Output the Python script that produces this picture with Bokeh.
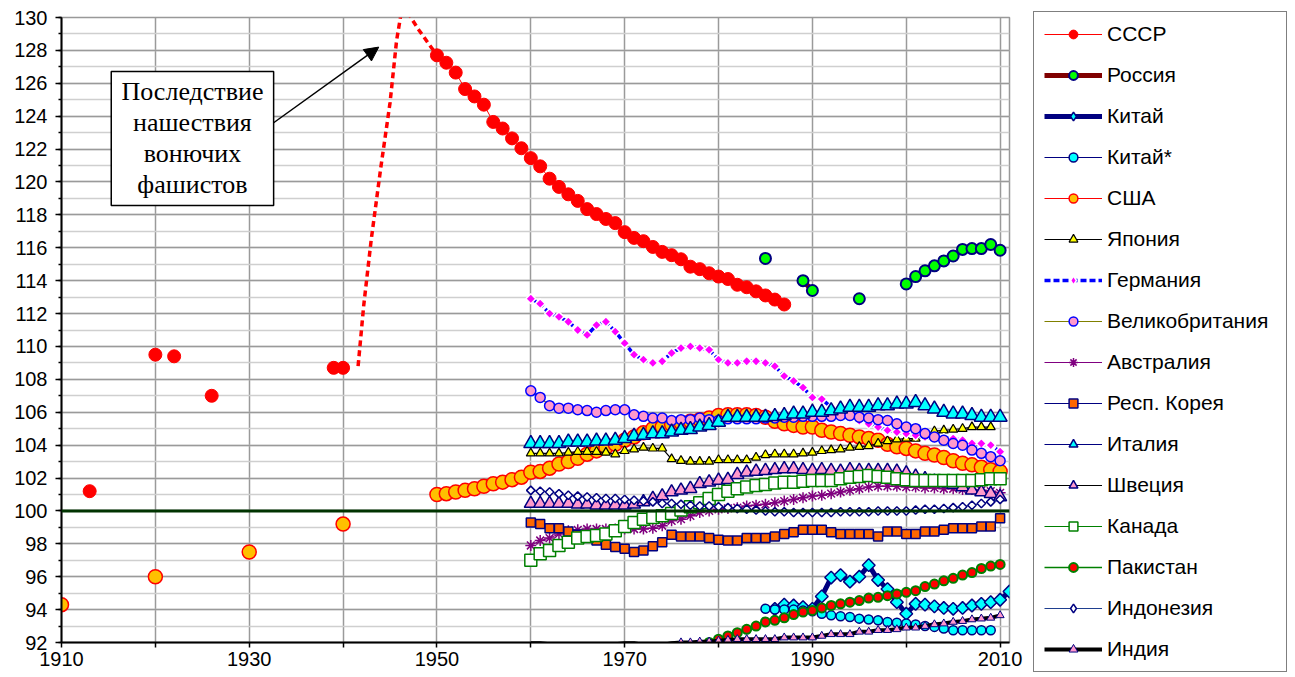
import numpy as np
from bokeh.plotting import figure
from bokeh.models import (Range1d, FixedTicker, Legend, LegendItem, Span,
                          BoxAnnotation, Label, Arrow, NormalHead)
from bokeh.embed import file_html
from bokeh.resources import INLINE

# ---------------- data ----------------
ussr_years = [1913, 1920, 1922, 1926, 1939, 1940] + list(range(1950, 1988))
ussr_values = [101.2, 109.5, 109.4, 107.0, 108.7, 108.7,
               127.7, 127.25, 126.65, 125.65, 125.2, 124.7, 123.65, 123.25, 122.65, 122.05,
               121.45, 120.95, 120.2, 119.7, 119.25, 118.85, 118.35, 118.05, 117.75, 117.5,
               116.95, 116.6, 116.4, 116.05, 115.75, 115.55, 115.3, 114.85, 114.7, 114.45,
               114.25, 114.1, 113.75, 113.6, 113.35, 113.1, 112.85, 112.55]
ussr_war_years = [1941.6, 1942.2, 1943.0, 1944.0, 1945.0, 1945.7, 1946.4, 1947.0, 1948.0, 1949.0, 1950.0]
ussr_war_values = [108.8, 112.5, 116.5, 120.8, 124.8, 128.6, 131.0, 130.2, 129.3, 128.5, 127.7]

russia_years = [1985, 1989, 1990, 1995] + list(range(2000, 2011))
russia_values = [115.35, 114.0, 113.4, 112.9,
                 113.8, 114.25, 114.6, 114.9, 115.2, 115.5, 115.9, 115.95, 115.95, 116.2, 115.85]

china_years = list(range(1986, 2012))
china_values = [94.05, 94.3, 94.25, 94.15, 94.05, 94.8, 95.95, 96.1, 95.7, 96.0,
                96.7, 95.8, 95.25, 94.45, 93.75, 94.35, 94.3, 94.2, 94.1, 94.05,
                94.1, 94.25, 94.35, 94.45, 94.6, 95.1]

china2_years = list(range(1985, 2010))
china2_values = [94.05, 94.0, 94.0, 94.0, 93.95, 93.9, 93.75, 93.65, 93.6, 93.55,
                 93.45, 93.4, 93.35, 93.25, 93.2, 93.15, 93.1, 93.0, 92.95, 92.85,
                 92.75, 92.75, 92.75, 92.75, 92.75]

usa_years = [1910, 1920, 1930, 1940] + list(range(1950, 2011))
usa_values = [94.3, 96.0, 97.5, 99.2,
              101.0, 101.05, 101.15, 101.25, 101.35, 101.5, 101.65, 101.75, 101.9, 102.05,
              102.35, 102.4, 102.6, 102.85, 103.0, 103.2, 103.45, 103.65, 103.85, 104.05,
              104.3, 104.5, 104.75, 105.0, 105.1, 105.25, 105.35, 105.45, 105.55, 105.65,
              105.8, 105.85, 105.85, 105.85, 105.8, 105.7, 105.45, 105.3, 105.2, 105.1,
              105.1, 104.9, 104.8, 104.7, 104.6, 104.5, 104.4, 104.3, 104.05, 103.9,
              103.8, 103.65, 103.5, 103.4, 103.25, 103.05, 102.9, 102.8, 102.65, 102.5,
              102.4]

years60 = list(range(1960, 2011))

japan_years = list(range(1960, 2010))
japan_values = [103.5, 103.5, 103.5, 103.5, 103.55, 103.6, 103.6, 103.6, 103.55, 103.45,
                103.65, 103.75, 103.85, 103.8, 103.8, 103.15, 103.05, 103.0, 103.0, 103.0,
                103.1, 103.1, 103.1, 103.1, 103.25, 103.4, 103.45, 103.45, 103.45, 103.5,
                103.55, 103.65, 103.7, 103.75, 103.85, 103.9, 103.95, 104.1, 104.25, 104.35,
                104.4, 104.4, 104.6, 104.85, 104.9, 104.95, 105.0, 105.1, 105.1, 105.1]

germany_values = [112.9, 112.6, 112.0, 111.8, 111.5, 111.0, 110.7, 111.3, 111.5, 110.9,
                  110.2, 109.5, 109.2, 109.0, 109.1, 109.6, 109.9, 110.0, 109.9, 109.8,
                  109.2, 109.0, 109.0, 109.1, 109.1, 109.0, 108.8, 108.2, 107.9, 107.5,
                  106.9, 106.8, 106.3, 105.9, 105.7, 105.5, 105.3, 105.1, 104.9, 104.8,
                  104.7, 104.6, 104.5, 104.4, 104.4, 104.4, 104.3, 104.1, 104.1, 104.0,
                  103.6]

uk_values = [107.3, 106.9, 106.4, 106.25, 106.25, 106.15, 106.1, 106.0, 106.1, 106.15,
             106.15, 105.85, 105.75, 105.65, 105.65, 105.5, 105.55, 105.55, 105.65, 105.55,
             105.5, 105.6, 105.6, 105.6, 105.6, 105.65, 105.65, 105.7, 105.7, 105.75,
             105.75, 105.75, 105.75, 105.8, 105.8, 105.7, 105.65, 105.55, 105.5, 105.3,
             105.1, 105.0, 104.7, 104.5, 104.3, 104.1, 104.0, 103.7, 103.5, 103.3,
             103.05]

australia_values = [97.9, 98.2, 98.35, 98.6, 98.8, 98.85, 98.9, 98.9, 98.9, 98.9,
                    98.9, 98.9, 98.9, 98.95, 99.1, 99.4, 99.5, 99.7, 99.9, 100.0,
                    100.1, 100.15, 100.2, 100.3, 100.35, 100.4, 100.5, 100.6, 100.7, 100.8,
                    100.9, 100.95, 101.05, 101.15, 101.25, 101.35, 101.45, 101.5, 101.5, 101.5,
                    101.45, 101.45, 101.4, 101.4, 101.35, 101.35, 101.3, 101.3, 101.25, 101.2,
                    101.1]

korea_values = [99.3, 99.2, 98.95, 98.95, 98.75, 98.55, 98.4, 98.2, 97.95, 97.8,
                97.7, 97.5, 97.6, 97.85, 98.1, 98.55, 98.45, 98.45, 98.45, 98.35,
                98.25, 98.2, 98.2, 98.35, 98.35, 98.35, 98.45, 98.6, 98.7, 98.85,
                98.85, 98.85, 98.7, 98.6, 98.6, 98.6, 98.6, 98.45, 98.75, 98.75,
                98.6, 98.6, 98.75, 98.75, 98.85, 98.95, 98.95, 98.95, 99.05, 99.05,
                99.55]

italy_values = [104.1, 104.1, 104.1, 104.1, 104.2, 104.2, 104.2, 104.25, 104.25, 104.3,
                104.4, 104.55, 104.6, 104.7, 104.7, 104.8, 104.9, 104.95, 105.1, 105.2,
                105.4, 105.7, 105.7, 105.7, 105.7, 105.7, 105.75, 105.8, 105.9, 105.9,
                106.0, 106.0, 106.1, 106.2, 106.3, 106.3, 106.3, 106.4, 106.4, 106.5,
                106.5, 106.6, 106.4, 106.2, 106.0, 105.9, 105.9, 105.8, 105.7, 105.7,
                105.7]

sweden_values = [100.45, 100.45, 100.45, 100.45, 100.45, 100.4, 100.4, 100.35, 100.35, 100.35,
                 100.35, 100.4, 100.55, 100.75, 100.9, 101.15, 101.25, 101.35, 101.65, 101.75,
                 101.85, 101.9, 102.2, 102.35, 102.4, 102.45, 102.5, 102.55, 102.55, 102.5,
                 102.45, 102.5, 102.45, 102.4, 102.5, 102.45, 102.45, 102.45, 102.45, 102.4,
                 102.3, 102.1, 101.95, 101.8, 101.7, 101.6, 101.45, 101.25, 101.15, 101.05,
                 100.85]

canada_values = [97.0, 97.4, 97.6, 97.9, 98.1, 98.35, 98.45, 98.5, 98.6, 98.8,
                 99.05, 99.3, 99.5, 99.6, 99.7, 99.85, 100.05, 100.25, 100.5, 100.75,
                 101.0, 101.2, 101.35, 101.45, 101.55, 101.6, 101.7, 101.75, 101.75, 101.8,
                 101.85, 101.85, 101.85, 101.95, 102.05, 102.1, 102.15, 102.1, 102.05, 101.95,
                 101.9, 101.85, 101.85, 101.85, 101.85, 101.85, 101.85, 101.85, 101.9, 101.95,
                 101.95]

pakistan_years = list(range(1975, 2011))
pakistan_values = [90.9, 91.2, 91.45, 91.75, 92.0, 92.2, 92.4, 92.6, 92.8, 93.0,
                   93.25, 93.35, 93.5, 93.7, 93.85, 93.95, 94.1, 94.25, 94.35, 94.45,
                   94.55, 94.7, 94.75, 94.85, 94.95, 95.05, 95.15, 95.4, 95.55, 95.75,
                   95.9, 96.1, 96.25, 96.5, 96.65, 96.75]

indonesia_values = [101.25, 101.2, 101.15, 101.05, 100.95, 100.9, 100.85, 100.8, 100.75, 100.75,
                    100.7, 100.65, 100.6, 100.55, 100.45, 100.45, 100.4, 100.35, 100.3, 100.3,
                    100.25, 100.2, 100.15, 100.1, 100.05, 100.0, 99.95, 99.95, 99.9, 99.9,
                    99.9, 99.9, 99.9, 99.95, 99.95, 99.95, 99.95, 100.0, 100.0, 100.0,
                    100.0, 100.05, 100.1, 100.1, 100.15, 100.2, 100.25, 100.35, 100.45, 100.55,
                    100.7]

india_values = [91.95, 91.95, 91.9, 91.85, 91.8, 91.8, 91.8, 91.85, 91.9, 91.9,
                91.95, 91.95, 91.85, 91.8, 91.85, 91.95, 92.0, 92.0, 92.05, 92.05,
                92.1, 92.15, 92.2, 92.2, 92.2, 92.2, 92.2, 92.3, 92.3, 92.3,
                92.3, 92.4, 92.5, 92.5, 92.5, 92.65, 92.65, 92.75, 92.75, 92.8,
                92.9, 92.9, 93.0, 93.1, 93.15, 93.25, 93.3, 93.4, 93.45, 93.5,
                93.65]

x_tick_years = list(range(1910, 2011, 10))
x_label_years = list(range(1910, 2011, 20))
y_major = list(range(92, 131, 2))
y_minor = list(range(92, 131, 1))

annotation_lines = ["Последствие", "нашествия", "вонючих", "фашистов"]

# ---------------- helpers ----------------
def with_gaps(xs, ys):
    gx, gy = [], []
    for i, (x, y) in enumerate(zip(xs, ys)):
        if i > 0 and x - xs[i - 1] > 1.01:
            gx.append(np.nan)
            gy.append(np.nan)
        gx.append(x)
        gy.append(y)
    return gx, gy

def visible(xs, ys, lo=92.0):
    pts = [(x, y) for x, y in zip(xs, ys) if y >= lo]
    return [a for a, _ in pts], [b for _, b in pts]

FONT = "Liberation Sans"
DIAMOND = np.pi / 4

p = figure(frame_width=948, frame_height=625,
           x_range=Range1d(1910, 2011), y_range=Range1d(92, 130),
           output_backend="svg", toolbar_location=None,
           min_border_left=61, min_border_top=17, min_border_right=10, min_border_bottom=34,
           background_fill_color="white", border_fill_color="white")
p.outline_line_color = "#999999"
p.outline_line_width = 1.5

# grid
p.xgrid.ticker = FixedTicker(ticks=x_tick_years)
p.xgrid.grid_line_color = "#9a9a9a"
p.xgrid.grid_line_width = 1.5
p.ygrid.ticker = FixedTicker(ticks=y_major, minor_ticks=y_minor)
p.ygrid.grid_line_color = "#9a9a9a"
p.ygrid.grid_line_width = 1.5
p.ygrid.minor_grid_line_color = "#cfcfcf"
p.ygrid.minor_grid_line_width = 1.5

# axes
p.xaxis.ticker = FixedTicker(ticks=x_tick_years)
p.xaxis.major_label_overrides = {y: "" for y in x_tick_years if y not in x_label_years}
p.yaxis.ticker = FixedTicker(ticks=y_major, minor_ticks=y_minor)
for ax in (p.xaxis[0], p.yaxis[0]):
    ax.axis_line_color = "black"
    ax.axis_line_width = 2
    ax.major_tick_line_color = "black"
    ax.major_tick_line_width = 1.5
    ax.major_tick_in = 0
    ax.major_label_text_font = FONT
    ax.major_label_text_font_size = "20px"
    ax.major_label_text_color = "black"
p.xaxis.major_tick_out = 5
p.xaxis.minor_tick_line_color = None
p.xaxis.major_label_standoff = 4
p.yaxis.major_tick_out = 6
p.yaxis.minor_tick_out = 3
p.yaxis.minor_tick_in = 0
p.yaxis.minor_tick_line_color = "black"
p.yaxis.minor_tick_line_width = 1.5
p.yaxis.major_label_standoff = 8

items = []

def series(label, xs, ys, line_color, line_width, marker, size, fill, outline,
           outline_width=1.5, dash="solid", clip_markers=False, rotated=False):
    gx, gy = with_gaps(xs, ys)
    lr = p.line(gx, gy, line_color=line_color, line_width=line_width, line_dash=dash)
    mx, my = visible(xs, ys) if clip_markers else (xs, ys)
    sr = p.scatter(mx, my, marker=marker, size=size, fill_color=fill,
                   angle=DIAMOND if rotated else 0.0,
                   line_color=outline, line_width=outline_width)
    renderers = [lr, sr]
    if rotated:
        # legend glyphs ignore the marker angle: use a diamond stand-in for the key only
        key = p.scatter([np.nan], [np.nan], marker="diamond", size=size, fill_color=fill,
                        line_color=outline, line_width=outline_width)
        renderers = [lr, key]
    items.append(LegendItem(label=label, renderers=renderers))

# USSR war-time dashed segment
p.line(ussr_war_years, ussr_war_values, line_color="red", line_width=3.5, line_dash="6 4")

series("СССР", ussr_years, ussr_values, "red", 1, "circle", 13, "red", "red", 1)
series("Россия", russia_years, russia_values, "#800000", 5, "circle", 11, "#00ff00", "#000080", 2)
series("Китай", china_years, china_values, "#000080", 5, "square", 9, "#00ffff", "#000080", 1.5, rotated=True)
series("Китай*", china2_years, china2_values, "#000080", 1.2, "circle", 9, "#00ffff", "#000080", 1.5)
series("США", usa_years, usa_values, "red", 1.2, "circle", 14, "#ffc000", "red", 1.5)
series("Япония", japan_years, japan_values, "black", 1.2, "triangle", 9, "#ffff00", "black", 1.2)
series("Германия", years60, germany_values, "#0000ff", 3.5, "square", 7, "#ff00ff", "white", 1.5, dash="6 3", rotated=True)
series("Великобритания", years60, uk_values, "#808000", 1.2, "circle", 10, "#ff99cc", "#0000ff", 1.5)
series("Австралия", years60, australia_values, "#800080", 1.2, "asterisk", 11, "#800080", "#800080", 1.5)
series("Респ. Корея", years60, korea_values, "#000080", 1.2, "square", 9, "#ff6600", "#000080", 1.5)
series("Италия", years60, italy_values, "#000080", 1.2, "triangle", 14, "#00ffff", "#000080", 1.5)
series("Швеция", years60, sweden_values, "black", 1.2, "triangle", 13, "#ff99cc", "#000080", 1.5)
series("Канада", years60, canada_values, "#008000", 1.2, "square", 12, "white", "#008000", 1.5)
series("Пакистан", pakistan_years, pakistan_values, "#008000", 1.5, "circle", 9, "red", "#008000", 2, clip_markers=True)
series("Индонезия", years60, indonesia_values, "#1f3f8f", 1.2, "square", 6, "white", "#000080", 1.5, rotated=True)
series("Индия", years60, india_values, "black", 4, "triangle", 8, "#ff99cc", "#000080", 1, clip_markers=True)

# 100 % reference line
p.add_layout(Span(location=100, dimension="width", line_color="#003300", line_width=3))

# annotation box with arrow
p.add_layout(BoxAnnotation(left=1915.3, right=1932.6, bottom=118.57, top=126.71,
                           fill_color="white", fill_alpha=1.0,
                           line_color="black", line_width=1.5, line_alpha=1.0))
for i, t in enumerate(annotation_lines):
    p.add_layout(Label(x=1923.95, y=125.53 - i * 1.9, text=t, text_align="center",
                       text_baseline="middle", text_font="Liberation Serif",
                       text_font_size="26px", text_color="black"))
p.add_layout(Arrow(end=NormalHead(size=14, fill_color="black", line_color="black"),
                   x_start=1932.6, y_start=123.6, x_end=1943.8, y_end=128.2,
                   line_color="black", line_width=1.5))

legend = Legend(items=items, location=(24, -30), margin=16,
                padding=10, spacing=17, glyph_width=58, glyph_height=22,
                label_standoff=5, label_width=169, label_height=22,
                label_text_font=FONT, label_text_font_size="21px",
                label_text_color="black",
                border_line_color="black", border_line_width=1.5,
                background_fill_color="white", background_fill_alpha=1.0)
p.add_layout(legend, "right")

open("out.html", "w").write(file_html(p, INLINE))
